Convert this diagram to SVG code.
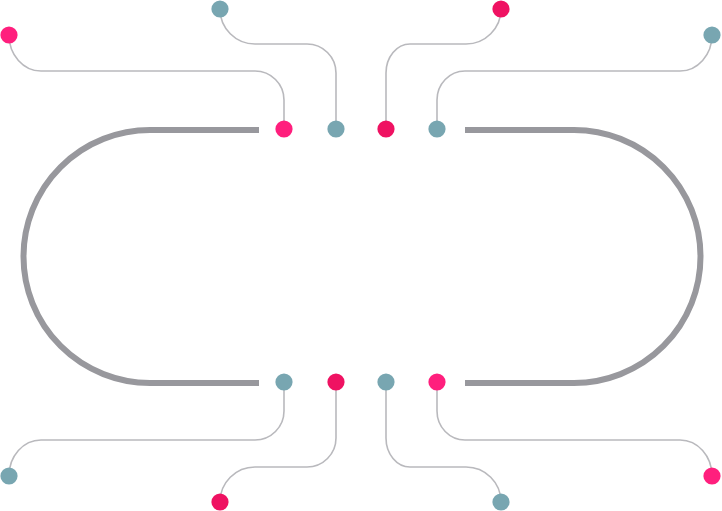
<svg xmlns="http://www.w3.org/2000/svg" width="722" height="511" viewBox="0 0 722 511">
<style>
.ring{fill:none;stroke:#98989d;stroke-width:6}
.wire{fill:none;stroke:#b9b9bd;stroke-width:1.6}
.pink{fill:#ff1f7d}
.crim{fill:#ef1262}
.teal{fill:#78a6b1}
</style>
<rect width="722" height="511" fill="#ffffff"/>
<g id="ring">
<path class="ring" d="M259,130 H150 A126.5,126.5 0 0 0 150,383 H259"/>
<path class="ring" d="M465,130 H574 A126.5,126.5 0 0 1 574,383 H465"/>
</g>
<g id="connectors">
<path class="wire" d="M284,129 V100 A29,29 0 0 0 255,71 H41 A32,36 0 0 1 9,35"/>
<path class="wire" d="M336,129 V73 A29,29 0 0 0 307,44 H255 A35,35 0 0 1 220,9"/>
<path class="wire" d="M386,129 V73 A24,29 0 0 1 410,44 H466 A35,35 0 0 0 501,9"/>
<path class="wire" d="M437,129 V100 A28,29 0 0 1 465,71 H680 A32,36 0 0 0 712,35"/>
<path class="wire" d="M284,382 V411 A29,29 0 0 1 255,440 H41 A32,36 0 0 0 9,476"/>
<path class="wire" d="M336,382 V438 A29,29 0 0 1 307,467 H255 A35,35 0 0 0 220,502"/>
<path class="wire" d="M386,382 V438 A24,29 0 0 0 410,467 H466 A35,35 0 0 1 501,502"/>
<path class="wire" d="M437,382 V411 A28,29 0 0 0 465,440 H680 A32,36 0 0 1 712,476"/>
</g>
<g id="top-inner">
<circle id="t1" class="pink" cx="284" cy="129" r="8.6"/>
<circle id="t2" class="teal" cx="336" cy="129" r="8.6"/>
<circle id="t3" class="crim" cx="386" cy="129" r="8.6"/>
<circle id="t4" class="teal" cx="437" cy="129" r="8.6"/>
</g>
<g id="top-outer">
<circle id="o1" class="pink" cx="9" cy="35" r="8.6"/>
<circle id="o2" class="teal" cx="220" cy="9" r="8.6"/>
<circle id="o3" class="crim" cx="501" cy="9" r="8.6"/>
<circle id="o4" class="teal" cx="712" cy="35" r="8.6"/>
</g>
<g id="bottom-inner">
<circle id="b1" class="teal" cx="284" cy="382" r="8.6"/>
<circle id="b2" class="crim" cx="336" cy="382" r="8.6"/>
<circle id="b3" class="teal" cx="386" cy="382" r="8.6"/>
<circle id="b4" class="pink" cx="437" cy="382" r="8.6"/>
</g>
<g id="bottom-outer">
<circle id="p1" class="teal" cx="9" cy="476" r="8.6"/>
<circle id="p2" class="crim" cx="220" cy="502" r="8.6"/>
<circle id="p3" class="teal" cx="501" cy="502" r="8.6"/>
<circle id="p4" class="pink" cx="712" cy="476" r="8.6"/>
</g>
</svg>
